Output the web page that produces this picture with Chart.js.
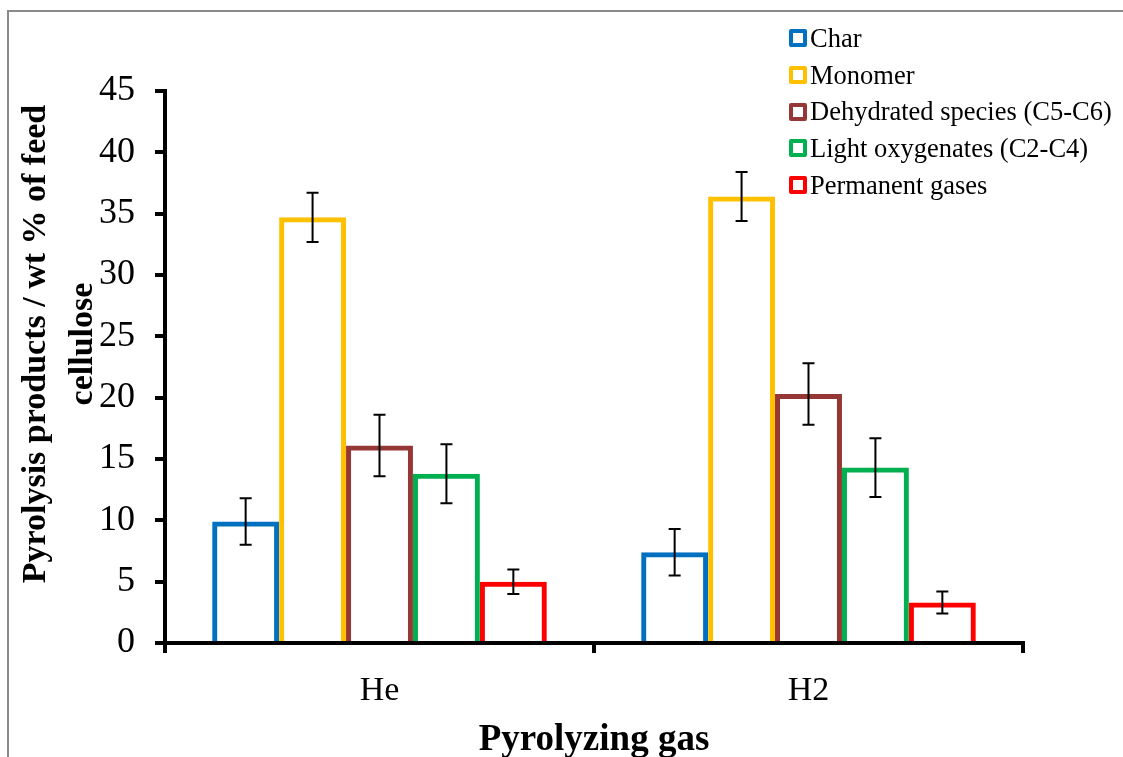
<!DOCTYPE html>
<html>
<head>
<meta charset="utf-8">
<script src="https://cdn.jsdelivr.net/npm/chart.js@4/dist/chart.umd.min.js"></script>
<style>
  html, body { margin: 0; padding: 0; background: #fff; }
  #wrap { position: relative; width: 1123px; height: 757px; overflow: hidden; }
  #frame { position: absolute; left: 7px; top: 10px; width: 1200px; height: 800px;
           border-left: 2px solid #8a8a8a; border-top: 2px solid #8a8a8a; }
  #chart { position: absolute; left: 0; top: 0; }
  #legend { position: absolute; left: 789px; top: 20px; font-family: "Liberation Serif", serif;
            font-size: 26.5px; color: #000; }
  .item { display: flex; align-items: center; height: 36.7px; }
  .box { width: 10px; height: 10px; border: 4px solid; border-radius: 2px; background: #fff; margin-right: 3px; }
  #ytitle { position: absolute; left: -203px; top: 297px; width: 520px; height: 94px;
            transform: rotate(-90deg); text-align: center; line-height: 47px; white-space: nowrap;
            font-family: "Liberation Serif", serif; font-weight: bold; font-size: 34px; color: #000; }
</style>
</head>
<body>
<div id="wrap">
  <div id="frame"></div>
  <canvas id="chart" width="1123" height="757"></canvas>
  <div id="ytitle">Pyrolysis products / wt % of feed<br>cellulose</div>
  <div id="legend"></div>
</div>
<script>
const categories = ['He', 'H2'];
const seriesNames = ['Char', 'Monomer', 'Dehydrated species (C5-C6)', 'Light oxygenates (C2-C4)', 'Permanent gases'];
const seriesColors = ['#0070C0', '#FFC000', '#953735', '#00B050', '#FF0000'];

const charValues = [9.9, 7.4];
const monomerValues = [34.7, 36.4];
const dehydratedValues = [16.1, 20.3];
const lightOxValues = [13.8, 14.3];
const gasValues = [5.0, 3.3];

const charErrors = [1.9, 1.9];
const monomerErrors = [2.0, 2.0];
const dehydratedErrors = [2.5, 2.5];
const lightOxErrors = [2.4, 2.4];
const gasErrors = [1.0, 0.9];

const yTicks = [0, 5, 10, 15, 20, 25, 30, 35, 40, 45];

const seriesValues = [charValues, monomerValues, dehydratedValues, lightOxValues, gasValues];
const seriesErrors = [charErrors, monomerErrors, dehydratedErrors, lightOxErrors, gasErrors];

const serif = '"Liberation Serif", "Times New Roman", serif';

// legend as html
const legendEl = document.getElementById('legend');
seriesNames.forEach((name, i) => {
    const row = document.createElement('div');
    row.className = 'item';
    row.innerHTML = `<span class="box" style="border-color:${seriesColors[i]}"></span><span>${name}</span>`;
    legendEl.appendChild(row);
});

// draws the error bars from the error arrays
const errorBars = {
    id: 'errorBars',
    afterDatasetsDraw(chart) {
        const ctx = chart.ctx;
        const y = chart.scales.y;
        ctx.save();
        ctx.strokeStyle = '#000';
        ctx.lineWidth = 2;
        chart.data.datasets.forEach((ds, di) => {
            const meta = chart.getDatasetMeta(di);
            meta.data.forEach((bar, i) => {
                const v = ds.data[i];
                const e = seriesErrors[di][i];
                const top = y.getPixelForValue(v + e);
                const bot = y.getPixelForValue(v - e);
                const x = bar.x;
                ctx.beginPath();
                ctx.moveTo(x, top); ctx.lineTo(x, bot);
                ctx.moveTo(x - 6, top); ctx.lineTo(x + 6, top);
                ctx.moveTo(x - 6, bot); ctx.lineTo(x + 6, bot);
                ctx.stroke();
            });
        });
        ctx.restore();
    }
};

new Chart(document.getElementById('chart').getContext('2d'), {
    type: 'bar',
    data: {
        labels: categories,
        datasets: seriesNames.map((name, i) => ({
            label: name,
            data: seriesValues[i],
            backgroundColor: 'rgba(255,255,255,0)',
            borderColor: seriesColors[i],
            borderWidth: 5,
            borderSkipped: 'bottom',
            inflateAmount: 0,
            barPercentage: 1,
            categoryPercentage: 0.78,
        })),
    },
    options: {
        responsive: false,
        animation: false,
        layout: { padding: { left: 0, right: 100, top: 91, bottom: 0 } },
        plugins: {
            legend: { display: false },
            tooltip: { enabled: false },
        },
        scales: {
            x: {
                afterFit(scale) { scale.height = 757 - 643; },
                border: { color: '#000', width: 4, z: 1 },
                grid: { drawOnChartArea: false, color: '#000', lineWidth: 4, tickLength: 10, offset: true },
                ticks: { color: '#000', font: { family: serif, size: 34 }, padding: 18 },
                title: {
                    display: true,
                    text: 'Pyrolyzing gas',
                    color: '#000',
                    font: { family: serif, size: 37, weight: 'bold' },
                    padding: { top: 0, bottom: -6 },
                },
            },
            y: {
                min: 0,
                max: 45,
                afterFit(scale) { scale.width = 165; },
                afterBuildTicks(scale) { scale.ticks = yTicks.map(v => ({ value: v })); },
                border: { color: '#000', width: 4, z: 1 },
                grid: { drawOnChartArea: false, color: '#000', lineWidth: 4, tickLength: 10 },
                ticks: { color: '#000', font: { family: serif, size: 36 }, padding: 20 },
            },
        },
    },
    plugins: [errorBars],
});
</script>
</body>
</html>
